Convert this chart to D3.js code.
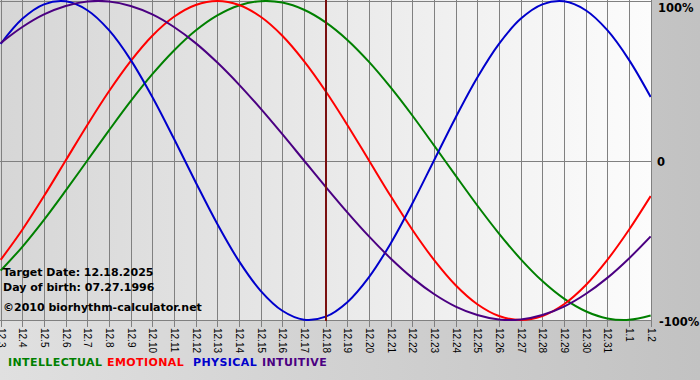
<!DOCTYPE html>
<html><head><meta charset="utf-8">
<script src="https://cdn.jsdelivr.net/npm/d3@7"></script>
<style>html,body{margin:0;padding:0;background:#d0d0d0;}svg{display:block;}</style>
</head><body>
<svg id="c" width="700" height="380"></svg>
<script>
const days = ["12.3","12.4","12.5","12.6","12.7","12.8","12.9","12.10","12.11","12.12","12.13","12.14","12.15","12.16","12.17","12.18","12.19","12.20","12.21","12.22","12.23","12.24","12.25","12.26","12.27","12.28","12.29","12.30","12.31","1.1","1.2"];
const intellectual = [-0.690,-0.541,-0.372,-0.189,0,0.189,0.372,0.541,0.690,0.815,0.910,0.972,0.999,0.990,0.945,0.866,0.756,0.618,0.458,0.282,0.095,-0.095,-0.282,-0.458,-0.618,-0.756,-0.866,-0.945,-0.990,-0.999,-0.972];
const emotional = [-0.623,-0.434,-0.223,0,0.223,0.434,0.623,0.782,0.901,0.975,1,0.975,0.901,0.782,0.623,0.434,0.223,0,-0.223,-0.434,-0.623,-0.782,-0.901,-0.975,-1,-0.975,-0.901,-0.782,-0.623,-0.434,-0.223];
const physical = [0.731,0.888,0.979,0.998,0.942,0.817,0.631,0.398,0.136,-0.136,-0.398,-0.631,-0.817,-0.942,-0.998,-0.979,-0.888,-0.731,-0.520,-0.270,0,0.270,0.520,0.731,0.888,0.979,0.998,0.942,0.817,0.631,0.398];
const intuitive = [0.736,0.837,0.916,0.969,0.997,0.997,0.969,0.916,0.837,0.736,0.614,0.476,0.325,0.165,0,-0.165,-0.325,-0.476,-0.614,-0.736,-0.837,-0.916,-0.969,-0.997,-0.997,-0.969,-0.916,-0.837,-0.736,-0.614,-0.476];
const yTicks = [1, 0, -1];
const yTickLabels = ["100%", "0", "-100%"];
const targetDay = "12.18";
const infoLines = ["Target Date: 12.18.2025", "Day of birth: 07.27.1996", "©2010 biorhythm-calculator.net"];
const legendNames = ["INTELLECTUAL", "EMOTIONAL", "PHYSICAL", "INTUITIVE"];

const svg = d3.select("#c");
const W = 700, H = 380;
const plotL = 0, plotR = 651, plotT = 0, plotB = 321;

const defs = svg.append("defs");
const g1 = defs.append("linearGradient").attr("id","bg").attr("x1","0").attr("x2","1").attr("y1","0").attr("y2","0");
g1.append("stop").attr("offset","0").attr("stop-color","#e0e0e0");
g1.append("stop").attr("offset","1").attr("stop-color","#c2c2c2");
const g2 = defs.append("linearGradient").attr("id","pl").attr("x1","0").attr("x2","1").attr("y1","0").attr("y2","0");
g2.append("stop").attr("offset","0").attr("stop-color","#d6d6d6");
g2.append("stop").attr("offset","1").attr("stop-color","#fcfcfc");

svg.append("rect").attr("width",W).attr("height",H).attr("fill","url(#bg)");
svg.append("rect").attr("x",plotL).attr("y",plotT).attr("width",plotR-plotL).attr("height",plotB-plotT).attr("fill","url(#pl)");

const x = d3.scaleLinear().domain([0, days.length-1]).range([0.67, 650.67]);
const y = d3.scaleLinear().domain([-1, 1]).range([320, 1]);

// vertical grid lines + ticks
const grid = svg.append("g");
grid.selectAll("line.v").data(days).enter().append("line")
  .attr("x1",(d,i)=>Math.round(x(i))+0.5).attr("x2",(d,i)=>Math.round(x(i))+0.5)
  .attr("y1",plotT).attr("y2",plotB+6)
  .attr("stroke","#808080").attr("stroke-width",1);
// horizontal grid lines
grid.selectAll("line.h").data(yTicks).enter().append("line")
  .attr("x1",plotL).attr("x2",plotR)
  .attr("y1",d=>Math.round(y(d))+0.5).attr("y2",d=>Math.round(y(d))+0.5)
  .attr("stroke","#808080").attr("stroke-width",1);

// x tick labels (rotated)
svg.append("g").selectAll("text").data(days).enter().append("text")
  .attr("transform",(d,i)=>`translate(${Math.round(x(i))-3.5},${plotB+7}) rotate(90)`)
  .attr("font-family","Liberation Sans, Arial, sans-serif").attr("font-size",10)
  .attr("fill","#000").text(d=>d);

// y labels
svg.append("g").selectAll("text").data(yTicks).enter().append("text")
  .attr("x",(d,i)=> i===0 ? 658 : (i===1 ? 657 : 659))
  .attr("y",d=> d===1 ? 12 : (d===0 ? 166 : 326))
  .attr("font-family","DejaVu Sans, Verdana, sans-serif").attr("font-weight","bold").attr("font-size",11.5)
  .attr("fill","#000").text((d,i)=>yTickLabels[i]);

// series lines
const series = [
  {name:legendNames[0], values:intellectual, color:"#008000"},
  {name:legendNames[1], values:emotional, color:"#ff0000"},
  {name:legendNames[2], values:physical, color:"#0000cc"},
  {name:legendNames[3], values:intuitive, color:"#4b0082"}
];
const line = d3.line().x((d,i)=>x(i)).y(d=>y(d)).curve(d3.curveCatmullRom.alpha(0.5));
const clip = defs.append("clipPath").attr("id","clp");
clip.append("rect").attr("x",plotL).attr("y",plotT).attr("width",plotR-plotL).attr("height",plotB-plotT+1);
const lines = svg.append("g").attr("clip-path","url(#clp)");
series.forEach(s=>{
  lines.append("path").datum(s.values).attr("d",line)
    .attr("fill","none").attr("stroke",s.color).attr("stroke-width",2).attr("stroke-linejoin","round");
});

// target line
const ti = days.indexOf(targetDay);
svg.append("line").attr("x1",Math.round(x(ti))).attr("x2",Math.round(x(ti)))
  .attr("y1",plotT).attr("y2",plotB).attr("stroke","#7a1010").attr("stroke-width",2);

// info text
svg.append("g").selectAll("text").data(infoLines).enter().append("text")
  .attr("x",3).attr("y",(d,i)=>[276,291,311][i])
  .attr("font-family","DejaVu Sans, Verdana, sans-serif").attr("font-weight","bold").attr("font-size",11)
  .attr("fill","#000").text(d=>d);

// legend
const lx = [8, 107, 193, 262];
svg.append("g").selectAll("text").data(series).enter().append("text")
  .attr("x",(d,i)=>lx[i]).attr("y",366)
  .attr("font-family","DejaVu Sans, Verdana, sans-serif").attr("font-weight","bold").attr("font-size",11)
  .attr("letter-spacing","0.4px")
  .attr("fill",d=>d.color).text(d=>d.name);
</script>
</body></html>
